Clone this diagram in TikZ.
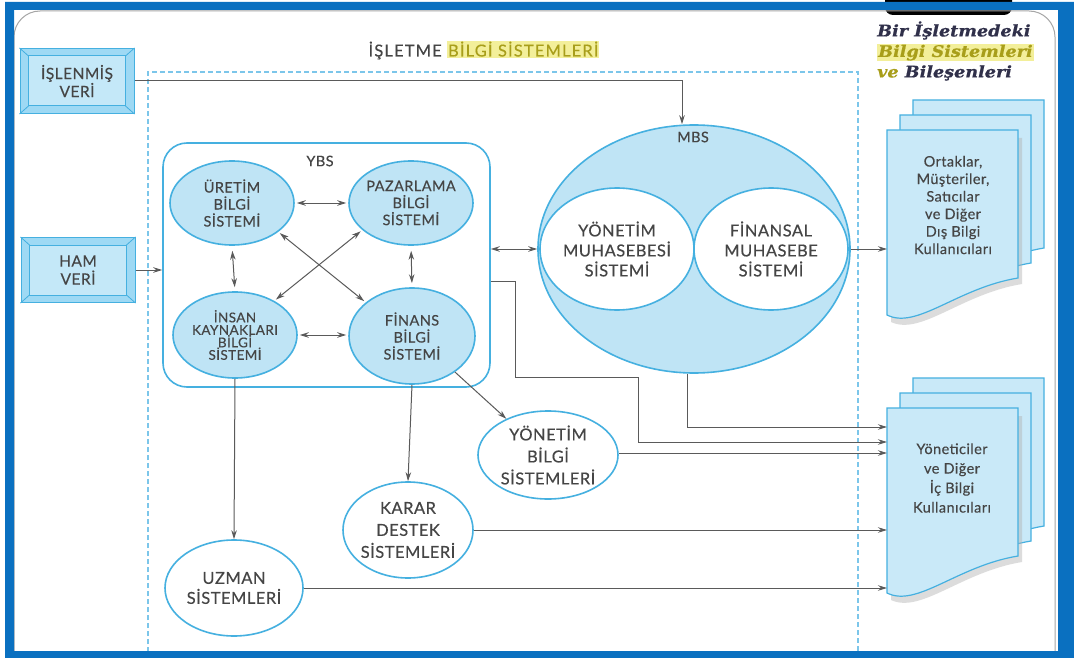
\documentclass[tikz,border=0pt]{standalone}
\usepackage{fontspec}
\setmainfont{Lato}[LetterSpace=3,FakeBold=0.35]
\newfontfamily\titlefont{Lato}[LetterSpace=7,FakeBold=0.35]
\newfontfamily\legendfont{DejaVu Serif}[FakeStretch=1.1,FakeBold=0.6]
\usetikzlibrary{shapes.geometric,arrows.meta}
\definecolor{frameblue}{HTML}{0A70C0}
\definecolor{lineblue}{HTML}{45B0E0}
\definecolor{fillblue}{HTML}{BFE4F5}
\definecolor{docfill}{HTML}{C9E9F8}
\definecolor{dashblue}{HTML}{7CC6EA}
\definecolor{textgray}{HTML}{454545}
\definecolor{conncol}{HTML}{5A5A5A}
\definecolor{boxout}{HTML}{9ED9F4}
\definecolor{boxin}{HTML}{C4E8F8}
\definecolor{olive}{HTML}{A89E1A}
\definecolor{hilite}{HTML}{F3EF9A}
\definecolor{legendink}{HTML}{30304A}
\setlength{\fboxsep}{1pt}

% one sheet of a stacked document symbol, top-left corner at (#1,#2)
\newcommand\docsheet[2]{%
  \filldraw[docsheetstyle] (#1,#2) -- (#1+131,#2) -- (#1+131,#2+148)
    .. controls (#1+70,#2+158) and (#1+30,#2+200) .. (#1,#2+185) -- cycle;}
\newcommand\docshadow[2]{%
  \fill[black!30,opacity=.45] (#1+4,#2+8) -- (#1+135,#2+8) -- (#1+135,#2+154)
    .. controls (#1+74,#2+164) and (#1+34,#2+206) .. (#1+4,#2+192) -- cycle;}
% bevelled frame drawn inside a named rectangle node
\newcommand\bevel[1]{%
  \draw[lineblue,line width=.8pt] (#1.north west) -- ([shift={(9,8)}]#1.north west)
    (#1.north east) -- ([shift={(-9,8)}]#1.north east)
    (#1.south west) -- ([shift={(9,-8)}]#1.south west)
    (#1.south east) -- ([shift={(-9,-8)}]#1.south east);
  \filldraw[fill=boxin,draw=lineblue,line width=1pt]
    ([shift={(9,8)}]#1.north west) rectangle ([shift={(-9,-8)}]#1.south east);}

\begin{document}
\begin{tikzpicture}[x=1pt,y=-1pt,
  tip/.tip={Stealth[length=9pt,width=5.5pt]},
  conn/.style={draw=conncol,line width=1pt,-tip},
  biconn/.style={draw=conncol,line width=1pt,tip-tip,shorten >=2pt,shorten <=2pt},
  subsys/.style={ellipse,draw=lineblue,line width=1.6pt,fill=fillblue,inner sep=0pt},
  whitesys/.style={ellipse,draw=lineblue,line width=1.6pt,fill=white,inner sep=0pt},
  lbl/.style={font=\fontsize{14.5}{17}\selectfont,text=textgray,align=center},
  biglbl/.style={font=\fontsize{16.5}{20}\selectfont,text=textgray,align=center},
  lowlbl/.style={font=\fontsize{16.5}{22}\selectfont,text=textgray,align=center},
  doclbl/.style={font=\fontsize{14.5}{17.5}\selectfont,text=textgray,align=center},
  databox/.style={rectangle,draw=lineblue,line width=1pt,fill=boxout,
    minimum width=114pt,minimum height=65pt,inner sep=0pt},
  docsheetstyle/.style={fill=docfill,draw=lineblue,line width=1.2pt},
]
\useasboundingbox (0,0) rectangle (1074,658);
\fill[white] (0,0) rectangle (1074,658);

% page outline and black tab
\fill[black] (885,-10) [rounded corners=8pt] -- (885,15) -- (1012,15) [sharp corners] -- (1012,-10) -- cycle;
\draw[black!35,line width=1pt,rounded corners=26pt] (14,700) -- (14,11) -- (1055,11) -- (1055,700);

% legend
\node[anchor=west,font=\legendfont\bfseries\itshape\fontsize{16}{20.5}\selectfont,
  align=left,inner sep=0pt] (legend) at (877,51)
  {\textcolor{legendink}{Bir İşletmedeki}\\
   \colorbox{hilite}{\textcolor{olive}{Bilgi Sistemleri}}\\
   \textcolor{olive}{ve} \textcolor{legendink}{Bileşenleri}};

% system boundary
\draw[dashblue,line width=1.3pt,dash pattern=on 5pt off 3pt] (148,700) -- (148,72) -- (858,72) -- (858,700);
\node[font=\titlefont\fontsize{16.5}{18}\selectfont,text=textgray,inner sep=0pt] (title) at (484,50)
  {İŞLETME \colorbox{hilite}{\textcolor{olive}{BİLGİ SİSTEMLERİ}}};

% input data boxes
\node[databox] (islenmis) at (77,81) {};
\bevel{islenmis}
\node[lbl,font=\fontsize{15.5}{18}\selectfont] at (islenmis) {İŞLENMİŞ\\VERİ};
\node[databox] (ham) at (78,270) {};
\bevel{ham}
\node[lbl,font=\fontsize{15.5}{18}\selectfont] at (ham) {HAM\\VERİ};

% YBS group
\node[rectangle,draw=lineblue,line width=1.6pt,fill=white,rounded corners=24pt,
  minimum width=327pt,minimum height=244pt] (ybs) at (326.5,265) {};
\node[lbl] (ybslbl) at (320,161) {YBS};
\node[subsys,minimum width=124pt,minimum height=84pt,
  label={[lbl]center:{ÜRETİM\\BİLGİ\\SİSTEMİ}}] (ur) at (232,203) {};
\node[subsys,minimum width=124pt,minimum height=84pt,
  label={[lbl]center:{PAZARLAMA\\BİLGİ\\SİSTEMİ}}] (pz) at (411,203) {};
\node[subsys,minimum width=124pt,minimum height=86pt,
  label={[lbl,font=\fontsize{13.5}{12.5}\selectfont]center:{İNSAN\\KAYNAKLARI\\BİLGİ\\SİSTEMİ}}] (ik) at (235,335) {};
\node[subsys,minimum width=126pt,minimum height=96pt,
  label={[lbl]center:{FİNANS\\BİLGİ\\SİSTEMİ}}] (fn) at (412,336) {};

\draw[biconn] (ur.east) -- (pz.west);
\draw[biconn,shorten >=4pt,shorten <=5pt] (ur.south) -- (ik.north);
\draw[biconn,shorten >=4pt,shorten <=5pt] (pz.south) -- (fn.north);
\draw[biconn] (ik.east) -- (fn.west |- ik.east);
\draw[biconn] (ur.-32) -- (fn.144);
\draw[biconn] (pz.-151) -- (ik.41);

% MBS group
\node[subsys,minimum width=312pt,minimum height=248pt] (mbs) at (694,249) {};
\node[lbl] (mbslbl) at (693,137) {MBS};
\node[whitesys,minimum width=154pt,minimum height=122pt,
  label={[biglbl]center:{YÖNETİM\\MUHASEBESİ\\SİSTEMİ}}] (ym) at (617,249) {};
\node[whitesys,minimum width=154pt,minimum height=122pt,
  label={[biglbl]center:{FİNANSAL\\MUHASEBE\\SİSTEMİ}}] (fm) at (771,249) {};

% lower systems
\node[whitesys,minimum width=140pt,minimum height=88pt,
  label={[lowlbl]center:{YÖNETİM\\BİLGİ\\SİSTEMLERİ}}] (yb) at (548,455) {};
\node[whitesys,minimum width=130pt,minimum height=96pt,
  label={[lowlbl]center:{KARAR\\DESTEK\\SİSTEMLERİ}}] (kd) at (408,530) {};
\node[whitesys,minimum width=138pt,minimum height=96pt,
  label={[biglbl]center:{UZMAN\\SİSTEMLERİ}}] (uz) at (234,588) {};

% user document stacks
\docsheet{913}{100}\docsheet{900}{115}\docshadow{887}{130}\docsheet{887}{130}
\docsheet{913}{378}\docsheet{900}{393}\docshadow{887}{408}\docsheet{887}{408}
\coordinate (extL) at (887,130);
\coordinate (intL) at (887,408);
\node[doclbl] (ext) at (953,205)
  {Ortaklar,\\Müşteriler,\\Satıcılar\\ve Diğer\\Dış Bilgi\\Kullanıcıları};
\node[doclbl,font=\fontsize{14.5}{19.5}\selectfont] (int) at (952,478)
  {Yöneticiler\\ve Diğer\\İç Bilgi\\Kullanıcıları};

% data flows
\draw[conn] (islenmis.east |- 0,81) -| ([xshift=-12pt]mbs.north);
\draw[conn] (ham.east) -- (ybs.west |- ham.east);
\draw[biconn,shorten <=0pt,shorten >=0pt] (ybs.east |- mbs.west) -- (mbs.west);
\draw[conn] (mbs.east) -- (extL |- mbs.east);
\draw[conn] (mbs.267) |- (intL |- 0,427);
\draw[conn] (ybs.east |- 0,281) -- (515,281) -- (515,377) -- (638,377) -- (638,442) -- (intL |- 0,442);
\draw[conn] (yb.east |- 0,453) -- (intL |- 0,453);
\draw[conn] (kd.east) -- (intL |- kd.east);
\draw[conn] (uz.east) -- (intL |- uz.east);
\draw[conn] (ik.south) -- (uz.north);
\draw[conn] (fn.south) -- (kd.north);
\draw[conn] (fn.-40) -- (yb.139);

% outer frame
\fill[frameblue,even odd rule] (5,2) rectangle (1074,658) (14,10) rectangle (1058,651);
\end{tikzpicture}
\end{document}
